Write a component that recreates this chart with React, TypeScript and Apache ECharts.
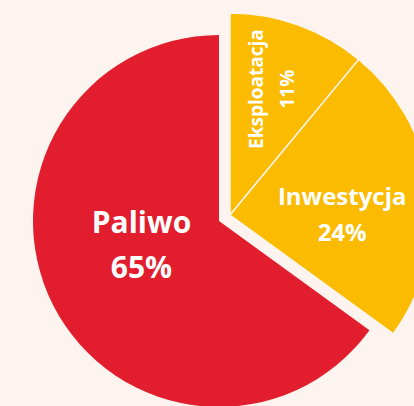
import React, { useEffect, useRef } from "react";
import * as echarts from "echarts";

const categories = ["Eksploatacja", "Inwestycja", "Paliwo"];
const values = [11, 24, 65];
const colors = ["#FBBB00", "#FBBB00", "#E21E2E"];
const BG = "#FDF4EF";

export default function App() {
  const ref = useRef<HTMLDivElement>(null);
  useEffect(() => {
    if (!ref.current) return;
    const chart = echarts.init(ref.current, null, { renderer: "svg" });
    const font = "'Open Sans', sans-serif";
    const redData = categories.map((name, i) => ({
      name,
      value: values[i],
      itemStyle: { color: i === 2 ? colors[i] : "rgba(0,0,0,0)" },
      label:
        i === 2
          ? {
              show: true,
              position: "inside",
              formatter: "{b}\n{d}%",
              color: "#FFFFFF",
              fontFamily: font,
              fontWeight: "bold",
              fontSize: 30,
              lineHeight: 45,
              offset: [8, -21],
            }
          : { show: false },
    }));
    const yellowData = categories.map((name, i) => {
      if (i === 2) {
        return {
          name,
          value: values[i],
          itemStyle: { color: "rgba(0,0,0,0)", borderWidth: 0 },
          label: { show: false },
        };
      }
      const lab =
        i === 0
          ? {
              show: true,
              position: "inside",
              formatter: "{b}\n{d}%",
              color: "#FFFFFF",
              fontFamily: font,
              fontWeight: "bold",
              fontSize: 19,
              lineHeight: 31,
              rotate: 90,
              offset: [28, 6],
            }
          : {
              show: true,
              position: "inside",
              formatter: "{b}\n{d}%",
              color: "#FFFFFF",
              fontFamily: font,
              fontWeight: "bold",
              fontSize: 24,
              lineHeight: 36,
              rotate: 0,
              offset: [9, 12],
            };
      return {
        name,
        value: values[i],
        itemStyle: { color: colors[i], borderColor: BG, borderWidth: 1.5 },
        label: lab,
      };
    });
    chart.setOption({
      animation: false,
      backgroundColor: BG,
      series: [
        {
          type: "pie",
          center: [219, 221],
          radius: 186,
          startAngle: 90,
          clockwise: true,
          silent: true,
          labelLine: { show: false },
          data: redData,
        },
        {
          type: "pie",
          center: [230, 215],
          radius: 202,
          startAngle: 90,
          clockwise: true,
          silent: true,
          labelLine: { show: false },
          data: yellowData,
        },
      ],
    });
    return () => chart.dispose();
  }, []);
  return (
    <div
      ref={ref}
      style={{ position: "fixed", left: 0, top: 0, width: 414, height: 406, background: BG }}
    />
  );
}
